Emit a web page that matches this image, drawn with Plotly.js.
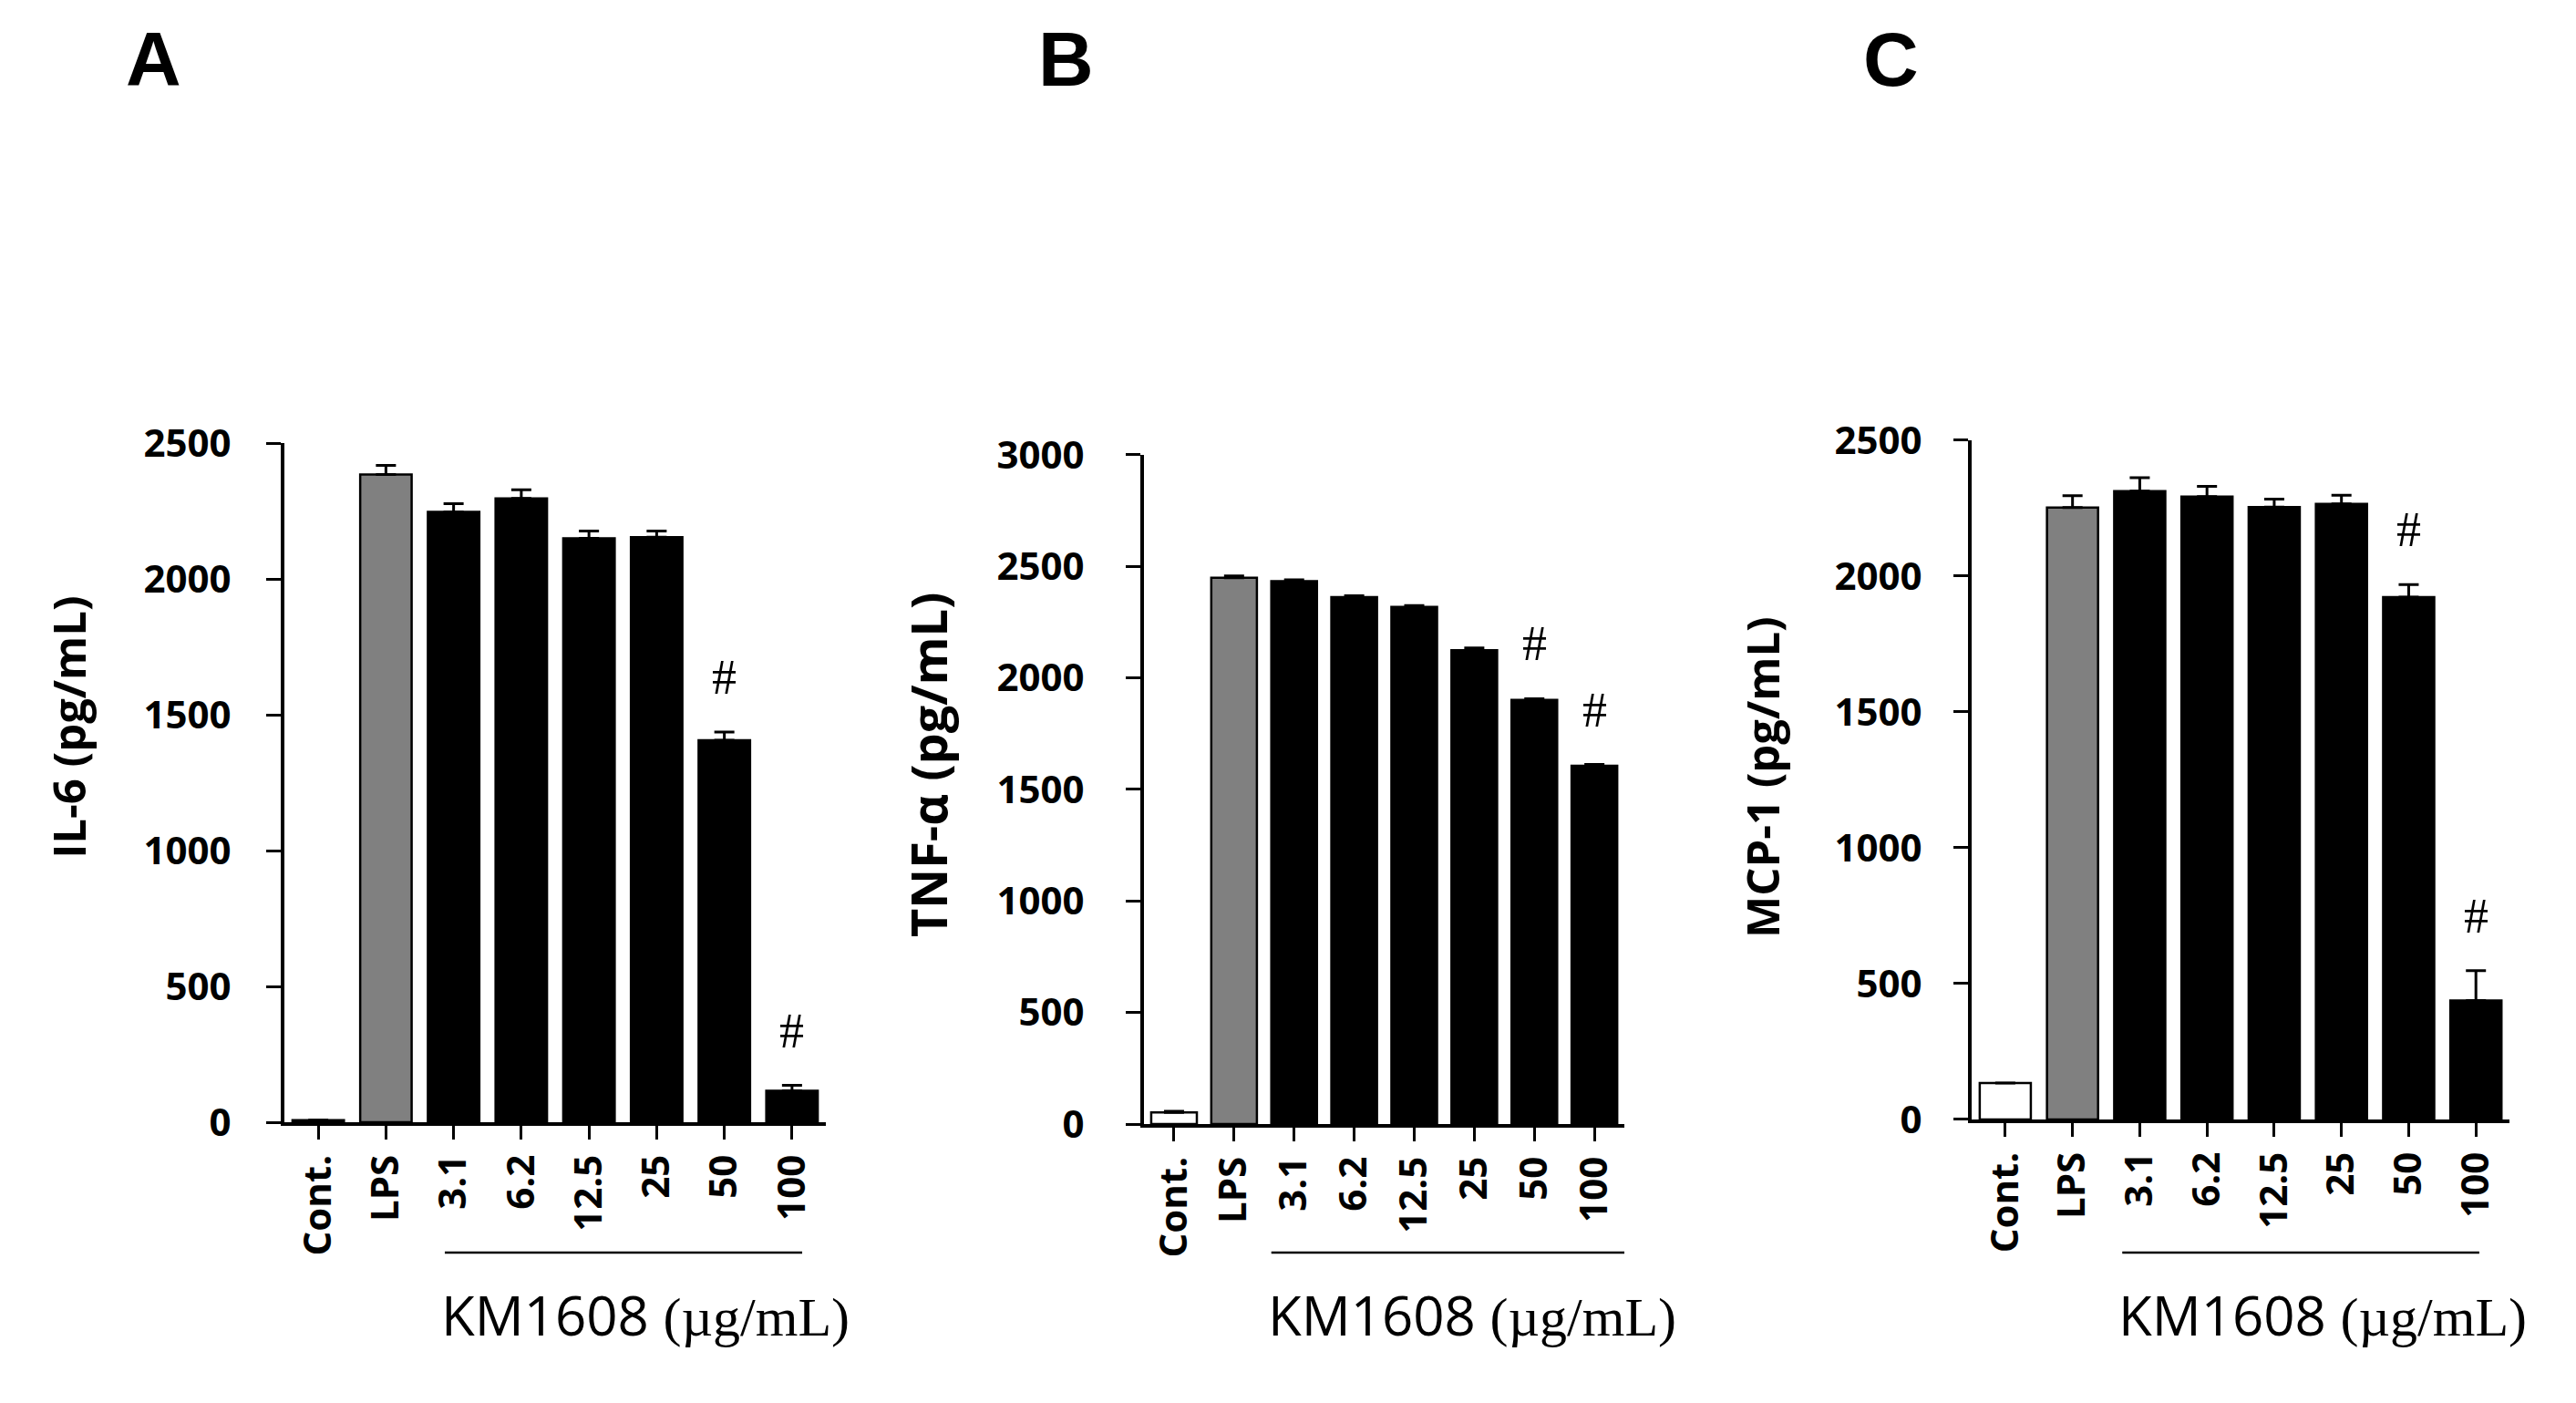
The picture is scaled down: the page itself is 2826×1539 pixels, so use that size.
<!DOCTYPE html>
<html>
<head>
<meta charset="utf-8">
<script src="https://cdn.plot.ly/plotly-3.0.1.min.js"></script>
<style>
  html, body { margin: 0; padding: 0; background: #fff; }
  #chart { width: 2826px; height: 1539px; }
</style>
</head>
<body>
<div id="chart"></div>
<script>
'use strict';
/* Groups on the x axis */
var categories = ['Cont.', 'LPS', '3.1', '6.2', '12.5', '25', '50', '100'];

/* IL-6 (panel A) */
var il6 = [8, 2384, 2247, 2296, 2149, 2154, 1406, 116];
var il6_err = [0, 34, 30, 32, 27, 22, 30, 20];

/* TNF-alpha (panel B) */
var tnf = [52, 2449, 2434, 2362, 2318, 2124, 1901, 1606];
var tnf_err = [5, 8, 6, 6, 6, 10, 6, 6];

/* MCP-1 (panel C) */
var mcp = [134, 2252, 2313, 2293, 2254, 2266, 1923, 438];
var mcp_err = [0, 44, 49, 37, 29, 32, 46, 110];

/* groups marked with # */
var sig = ['50', '100'];

var bar_colors = ['#ffffff', '#808080', '#000000', '#000000', '#000000', '#000000', '#000000', '#000000'];

var tick_font = {family: 'Open Sans', size: 42, color: '#000', weight: 'bold'};

function barTrace(vals, errs, xa, ya) {
  return {
    x: categories,
    y: vals,
    type: 'bar',
    width: 0.76,
    xaxis: xa,
    yaxis: ya,
    marker: {color: bar_colors, line: {color: '#000', width: 2.5}},
    error_y: {type: 'data', array: errs, arrayminus: errs.map(function () { return 0; }),
      symmetric: false, color: '#000', thickness: 3, width: 11},
    hoverinfo: 'y'
  };
}

function xAxis(dom, yname) {
  return {
    domain: dom, anchor: yname, type: 'category', range: [-0.5, 7.5],
    showline: true, linecolor: '#000', linewidth: 4,
    ticks: 'outside', ticklen: 15, tickwidth: 3, tickcolor: '#000',
    tickangle: -90, tickfont: tick_font, showgrid: false, zeroline: false,
    fixedrange: true
  };
}

function yAxis(dom, xname, top, standoff) {
  return {
    domain: dom, anchor: xname, range: [0, top], dtick: 500, tickformat: 'd',
    showline: true, linecolor: '#000', linewidth: 4,
    ticks: 'outside', ticklen: 16, tickwidth: 3, tickcolor: '#000',
    ticklabelstandoff: standoff,
    tickfont: tick_font, showgrid: false, zeroline: false, fixedrange: true
  };
}

var data = [
  barTrace(il6, il6_err, 'x', 'y'),
  barTrace(tnf, tnf_err, 'x2', 'y2'),
  barTrace(mcp, mcp_err, 'x3', 'y3')
];

var annotations = [];
var shapes = [];

function panelLetter(txt, x) {
  annotations.push({text: txt, xref: 'paper', yref: 'paper', x: x, y: 0.958,
    showarrow: false, xanchor: 'center', yanchor: 'middle',
    font: {family: 'Liberation Sans', size: 84, color: '#000', weight: 'bold'}});
}

function yTitle(txt, x, y, size) {
  annotations.push({text: txt, xref: 'paper', yref: 'paper', x: x, y: y, textangle: -90,
    showarrow: false, xanchor: 'center', yanchor: 'middle',
    font: {family: 'Open Sans', size: size, color: '#000', weight: 'bold'}});
}

function hashMarks(vals, errs, xr, yr) {
  sig.forEach(function (c) {
    var i = categories.indexOf(c);
    annotations.push({text: '#', xref: xr, yref: yr, x: i, y: vals[i] + errs[i], yshift: 60,
      showarrow: false, xanchor: 'center', yanchor: 'middle',
      font: {family: 'Liberation Serif', size: 54, color: '#000'}});
  });
}

function doseLabel(xr, x0, x1) {
  shapes.push({type: 'line', xref: xr, yref: 'paper', x0: x0, x1: x1, y0: 0.1072, y1: 0.1072,
    line: {color: '#000', width: 2.5}});
  annotations.push({
    text: 'KM1608 <span style="font-family:Liberation Serif">(\u00b5g/mL)</span>',
    xref: xr, yref: 'paper', x: x0, xshift: -6, y: 0.063,
    showarrow: false, xanchor: 'left', yanchor: 'middle',
    font: {family: 'Open Sans', size: 60, color: '#000'}});
}

panelLetter('A', 0.0595);
panelLetter('B', 0.4137);
panelLetter('C', 0.734);

yTitle('IL-6 (pg/mL)', 0.0265, 0.4815, 49);
yTitle('TNF-\u03b1 (pg/mL)', 0.3602, 0.4548, 54);
yTitle('MCP-1 (pg/mL)', 0.684, 0.4464, 49);

hashMarks(il6, il6_err, 'x', 'y');
hashMarks(tnf, tnf_err, 'x2', 'y2');
hashMarks(mcp, mcp_err, 'x3', 'y3');

doseLabel('x', 1.87, 7.15);
doseLabel('x2', 1.62, 7.58);
doseLabel('x3', 1.74, 7.05);

var layout = {
  width: 2826,
  height: 1539,
  margin: {l: 0, r: 0, t: 0, b: 0},
  paper_bgcolor: '#fff',
  plot_bgcolor: '#fff',
  showlegend: false,
  xaxis: xAxis([0.1104, 0.3206], 'y'),
  yaxis: yAxis([0.2001, 0.6842], 'x', 2500, 30),
  xaxis2: xAxis([0.4441, 0.6306], 'y2'),
  yaxis2: yAxis([0.1988, 0.6758], 'x2', 3000, 37),
  xaxis3: xAxis([0.7654, 0.9742], 'y3'),
  yaxis3: yAxis([0.2021, 0.6862], 'x3', 2500, 26),
  annotations: annotations,
  shapes: shapes
};

Plotly.newPlot('chart', data, layout, {displayModeBar: false, staticPlot: true});
</script>
</body>
</html>
